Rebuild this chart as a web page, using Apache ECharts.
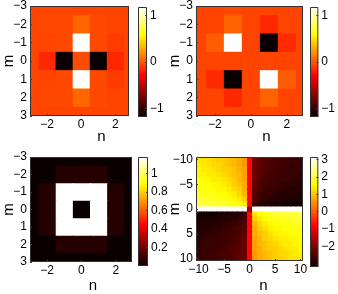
<!DOCTYPE html>
<html>
<head>
<meta charset="utf-8">
<script src="https://cdn.jsdelivr.net/npm/echarts@6/dist/echarts.min.js"></script>
<style>
html, body { margin: 0; padding: 0; background: #fff; }
#chart { width: 338px; height: 294px; }
</style>
</head>
<body>
<div id="chart"></div>
<script>
// grid indices (m = rows from top, n = columns from left)
var idx3 = [-3, -2, -1, 0, 1, 2, 3];
var idx10 = [-10, -9, -8, -7, -6, -5, -4, -3, -2, -1, 0, 1, 2, 3, 4, 5, 6, 7, 8, 9, 10];

// tick labels
var ticks3 = [-2, 0, 2];
var ticksM3 = [-3, -2, -1, 0, 1, 2, 3];
var ticks10 = [-10, -5, 0, 5, 10];
var barTicks1 = [-1, 0, 1];
var barTicks3 = [0.2, 0.4, 0.6, 0.8, 1];
var barTicks4 = [-2, -1, 0, 1, 2, 3];

// colour ranges of the four colorbars
var range1 = [-1.18, 1.18];
var range2 = [-1.18, 1.18];
var range3 = [0, 1.18];
var range4 = [-3.18, 3.15];

// top left
var field1 = [
  [-0.06, -0.06, -0.06, -0.06, -0.06, -0.06, -0.06],
  [-0.06, -0.04, -0.04,  0.06, -0.04, -0.06, -0.06],
  [-0.06, -0.06, -0.04,  1.18, -0.04, -0.09, -0.06],
  [-0.06, -0.16, -1.18, -0.03, -1.18, -0.16, -0.06],
  [-0.06, -0.06, -0.04,  1.18, -0.04, -0.09, -0.06],
  [-0.06, -0.04, -0.04,  0.06, -0.04, -0.06, -0.06],
  [-0.06, -0.06, -0.06, -0.06, -0.06, -0.06, -0.06]
];
// top right
var field2 = [
  [-0.06, -0.06, -0.05, -0.06, -0.06, -0.06, -0.06],
  [-0.06, -0.06,  0.05, -0.06, -0.16, -0.06, -0.06],
  [-0.06,  0.03,  1.18, -0.06, -1.18, -0.15, -0.06],
  [-0.06, -0.06, -0.06, -0.06, -0.06, -0.06, -0.06],
  [-0.06, -0.15, -1.18, -0.06,  1.18,  0.03, -0.06],
  [-0.06, -0.06, -0.16, -0.06,  0.05, -0.06, -0.06],
  [-0.06, -0.06, -0.06, -0.06, -0.05, -0.06, -0.06]
];
// bottom left
var field3 = [
  [0, 0, 0, 0, 0, 0, 0],
  [0, 0, 0.05, 0.05, 0.05, 0, 0],
  [0, 0.05, 1.18, 1.18, 1.18, 0.05, 0],
  [0, 0.05, 1.18, 0, 1.18, 0.05, 0],
  [0, 0.05, 1.18, 1.18, 1.18, 0.05, 0],
  [0, 0, 0.05, 0.05, 0.05, 0, 0],
  [0, 0, 0, 0, 0, 0, 0]
];
// bottom right
var field4 = [
  [1.4, 1.3, 1.3, 1.2, 1.1, 1.1, 1.0, 0.9, 0.8, 0.6, -0.75, -2.2, -2.3, -2.4, -2.5, -2.5, -2.6, -2.6, -2.6, -2.7, -2.7],
  [1.4, 1.4, 1.3, 1.2, 1.2, 1.1, 1.0, 0.9, 0.8, 0.6, -0.75, -2.2, -2.3, -2.4, -2.5, -2.5, -2.6, -2.6, -2.7, -2.7, -2.7],
  [1.5, 1.4, 1.4, 1.3, 1.2, 1.1, 1.1, 1.0, 0.8, 0.7, -0.75, -2.2, -2.4, -2.4, -2.5, -2.6, -2.6, -2.7, -2.7, -2.7, -2.7],
  [1.5, 1.5, 1.4, 1.4, 1.3, 1.2, 1.1, 1.0, 0.9, 0.7, -0.75, -2.2, -2.4, -2.5, -2.6, -2.6, -2.7, -2.7, -2.7, -2.7, -2.8],
  [1.6, 1.5, 1.5, 1.4, 1.4, 1.3, 1.2, 1.1, 0.9, 0.7, -0.75, -2.2, -2.4, -2.5, -2.6, -2.6, -2.7, -2.7, -2.7, -2.8, -2.8],
  [1.6, 1.6, 1.6, 1.5, 1.5, 1.4, 1.3, 1.1, 1.0, 0.8, -0.75, -2.3, -2.5, -2.6, -2.6, -2.7, -2.7, -2.8, -2.8, -2.8, -2.9],
  [1.7, 1.7, 1.6, 1.6, 1.5, 1.5, 1.4, 1.2, 1.1, 0.8, -0.75, -2.4, -2.5, -2.6, -2.7, -2.7, -2.8, -2.8, -2.9, -2.9, -2.9],
  [1.8, 1.7, 1.7, 1.7, 1.6, 1.6, 1.5, 1.4, 1.2, 0.9, -0.75, -2.4, -2.6, -2.7, -2.7, -2.8, -2.9, -2.9, -2.9, -2.9, -3.0],
  [1.9, 1.9, 1.8, 1.8, 1.7, 1.7, 1.6, 1.5, 1.4, 1.1, -0.75, -2.5, -2.7, -2.8, -2.9, -2.9, -2.9, -3.0, -3.0, -3.0, -3.0],
  [2.0, 2.0, 1.9, 1.9, 1.9, 1.9, 1.8, 1.7, 1.6, 1.4, -0.75, -2.7, -2.9, -2.9, -3.0, -3.0, -3.0, -3.1, -3.1, -3.1, -3.1],
  [3.14, 3.14, 3.14, 3.14, 3.14, 3.14, 3.14, 3.14, 3.14, 3.14, -1.8, 3.14, 3.14, 3.14, 3.14, 3.14, 3.14, 3.14, 3.14, 3.14, 3.14],
  [-3.1, -3.1, -3.1, -3.1, -3.0, -3.0, -3.0, -2.9, -2.9, -2.7, -0.75, 1.4, 1.6, 1.7, 1.8, 1.9, 1.9, 1.9, 1.9, 2.0, 2.0],
  [-3.0, -3.0, -3.0, -3.0, -2.9, -2.9, -2.9, -2.8, -2.7, -2.5, -0.75, 1.1, 1.4, 1.5, 1.6, 1.7, 1.7, 1.8, 1.8, 1.9, 1.9],
  [-3.0, -2.9, -2.9, -2.9, -2.9, -2.8, -2.7, -2.7, -2.6, -2.4, -0.75, 0.9, 1.2, 1.4, 1.5, 1.6, 1.6, 1.7, 1.7, 1.7, 1.8],
  [-2.9, -2.9, -2.9, -2.8, -2.8, -2.7, -2.7, -2.6, -2.5, -2.4, -0.75, 0.8, 1.1, 1.2, 1.4, 1.5, 1.5, 1.6, 1.6, 1.7, 1.7],
  [-2.9, -2.8, -2.8, -2.8, -2.7, -2.7, -2.6, -2.6, -2.5, -2.3, -0.75, 0.8, 1.0, 1.1, 1.3, 1.4, 1.5, 1.5, 1.6, 1.6, 1.6],
  [-2.8, -2.8, -2.7, -2.7, -2.7, -2.6, -2.6, -2.5, -2.4, -2.2, -0.75, 0.7, 0.9, 1.1, 1.2, 1.3, 1.4, 1.4, 1.5, 1.5, 1.6],
  [-2.8, -2.7, -2.7, -2.7, -2.7, -2.6, -2.6, -2.5, -2.4, -2.2, -0.75, 0.7, 0.9, 1.0, 1.1, 1.2, 1.3, 1.4, 1.4, 1.5, 1.5],
  [-2.7, -2.7, -2.7, -2.7, -2.6, -2.6, -2.5, -2.4, -2.4, -2.2, -0.75, 0.7, 0.8, 1.0, 1.1, 1.1, 1.2, 1.3, 1.4, 1.4, 1.5],
  [-2.7, -2.7, -2.7, -2.6, -2.6, -2.5, -2.5, -2.4, -2.3, -2.2, -0.75, 0.6, 0.8, 0.9, 1.0, 1.1, 1.2, 1.2, 1.3, 1.4, 1.4],
  [-2.7, -2.7, -2.6, -2.6, -2.6, -2.5, -2.5, -2.4, -2.3, -2.2, -0.75, 0.6, 0.8, 0.9, 1.0, 1.1, 1.1, 1.2, 1.3, 1.3, 1.4]
];

// matlab "hot", low to high
var hotColors = ['#0b0000', '#550000', '#aa0000', '#ff0000', '#ff5500', '#ffaa00', '#ffff00', '#ffff80', '#ffffff'];

var panels = [
  { grid: {left: 25, top: 6, width: 104, height: 110}, bar: {left: 138, top: 7, width: 9, height: 110},
    x: [-3, 2.8], y: [-3, 3], xt: ticks3, yt: ticksM3, c: range1, ct: barTicks1,
    rows: idx3, cols: idx3, cells: field1, nShift: 22, nGap: 13 },
  { grid: {left: 196, top: 6, width: 107, height: 110}, bar: {left: 310, top: 7, width: 10, height: 110},
    x: [-3.05, 2.9], y: [-3, 3], xt: ticks3, yt: ticksM3, c: range2, ct: barTicks1,
    rows: idx3, cols: idx3, cells: field2, nShift: 17, nGap: 13 },
  { grid: {left: 25, top: 157, width: 107, height: 110}, bar: {left: 138, top: 157, width: 10, height: 109},
    x: [-3, 2.95], y: [-3, 3], xt: ticks3, yt: ticksM3, c: range3, ct: barTicks3,
    rows: idx3, cols: idx3, cells: field3, nShift: 12, nGap: 16 },
  { grid: {left: 196, top: 157, width: 107, height: 109}, bar: {left: 310, top: 157, width: 10, height: 110},
    x: [-10.5, 10.5], y: [-10.5, 10.5], xt: ticks10, yt: ticks10, c: range4, ct: barTicks4,
    rows: idx10, cols: idx10, cells: field4, nShift: 14, nGap: 17 }
];

function minus(v) {
  return String(v).replace('-', '\u2212');
}

function toCells(rows, cols, m) {
  var out = [];
  for (var i = 0; i < rows.length; i++) {
    for (var j = 0; j < cols.length; j++) {
      out.push([cols[j], rows[i], m[i][j]]);
    }
  }
  return out;
}

function cellItem(params, api) {
  var x = api.value(0), y = api.value(1);
  var a = api.coord([x - 0.5, y - 0.5]);
  var b = api.coord([x + 0.5, y + 0.5]);
  var cs = params.coordSys;
  // a pixel of overlap hides the seams between neighbouring cells
  var rect = echarts.graphic.clipRectByRect({
    x: Math.min(a[0], b[0]),
    y: Math.min(a[1], b[1]),
    width: Math.abs(b[0] - a[0]) + 1,
    height: Math.abs(b[1] - a[1]) + 1
  }, {x: cs.x, y: cs.y, width: cs.width, height: cs.height});
  return rect && {type: 'rect', shape: rect, style: {fill: api.visual('color')}};
}

var gradStops = hotColors.slice().reverse().map(function (c, i) {
  return {offset: i / (hotColors.length - 1), color: c};
});

function barItem(params, api) {
  var top = api.coord([0, api.value(1)]);
  var bot = api.coord([1, api.value(0)]);
  return {
    type: 'rect',
    shape: {x: top[0], y: top[1], width: bot[0] - top[0], height: bot[1] - top[1]},
    style: {fill: new echarts.graphic.LinearGradient(0, 0, 0, 1, gradStops)}
  };
}

function frameItem(params) {
  var cs = params.coordSys;
  return {
    type: 'rect',
    shape: {x: cs.x + 0.5, y: cs.y + 0.5, width: cs.width - 1, height: cs.height - 1},
    style: {fill: 'none', stroke: '#333', lineWidth: 1}
  };
}

var grids = [], xAxes = [], yAxes = [], series = [], visualMaps = [], frames = [];
var tickStyle = {color: '#444', width: 1};
var labelStyle = {fontSize: 12, color: '#000', formatter: minus};

panels.forEach(function (p) {
  // heatmap
  var gi = grids.length;
  grids.push(p.grid);
  xAxes.push({
    type: 'value', gridIndex: gi, min: p.x[0], max: p.x[1], z: 5,
    name: 'n', nameLocation: 'middle', nameGap: p.nGap, nameMoveOverlap: false,
    nameTextStyle: {fontSize: 15, color: '#000', padding: [0, 0, 0, p.nShift * 2]},
    axisLine: {show: false, onZero: false}, splitLine: {show: false},
    axisTick: {inside: true, length: 2, customValues: p.xt, lineStyle: tickStyle},
    axisLabel: Object.assign({customValues: p.xt, margin: 3}, labelStyle)
  });
  yAxes.push({
    type: 'value', gridIndex: gi, min: p.y[0], max: p.y[1], inverse: true, z: 5,
    name: 'm', nameLocation: 'middle', nameGap: 14, nameRotate: 90, nameMoveOverlap: false,
    nameTextStyle: {fontSize: 15, color: '#000'},
    axisLine: {show: false, onZero: false}, splitLine: {show: false},
    axisTick: {inside: true, length: 2, customValues: p.yt, lineStyle: tickStyle},
    axisLabel: Object.assign({customValues: p.yt, margin: 3}, labelStyle)
  });
  series.push({
    type: 'custom', xAxisIndex: gi, yAxisIndex: gi, renderItem: cellItem,
    data: toCells(p.rows, p.cols, p.cells), silent: true, z: 2
  });
  visualMaps.push({
    show: false, type: 'continuous', seriesIndex: series.length - 1, dimension: 2,
    min: p.c[0], max: p.c[1], inRange: {color: hotColors}
  });
  frames.push(gi);

  // colorbar
  var bi = grids.length;
  grids.push(p.bar);
  xAxes.push({type: 'value', gridIndex: bi, min: 0, max: 1, show: false});
  yAxes.push({
    type: 'value', gridIndex: bi, min: p.c[0], max: p.c[1], position: 'right', z: 5,
    axisLine: {show: false, onZero: false}, splitLine: {show: false},
    axisTick: {inside: true, length: 2, customValues: p.ct, lineStyle: tickStyle},
    axisLabel: Object.assign({customValues: p.ct, margin: 3}, labelStyle)
  });
  series.push({
    type: 'custom', xAxisIndex: bi, yAxisIndex: bi, renderItem: barItem,
    data: [[p.c[0], p.c[1]]], silent: true, z: 2
  });
  frames.push(bi);
});

frames.forEach(function (gi) {
  series.push({
    type: 'custom', xAxisIndex: gi, yAxisIndex: gi, renderItem: frameItem,
    data: [[0, 0]], silent: true, z: 10
  });
});

var chart = echarts.init(document.getElementById('chart'));
chart.setOption({
  animation: false,
  textStyle: {fontFamily: 'Liberation Sans, Arial, sans-serif'},
  grid: grids,
  xAxis: xAxes,
  yAxis: yAxes,
  visualMap: visualMaps,
  series: series
});
</script>
</body>
</html>
